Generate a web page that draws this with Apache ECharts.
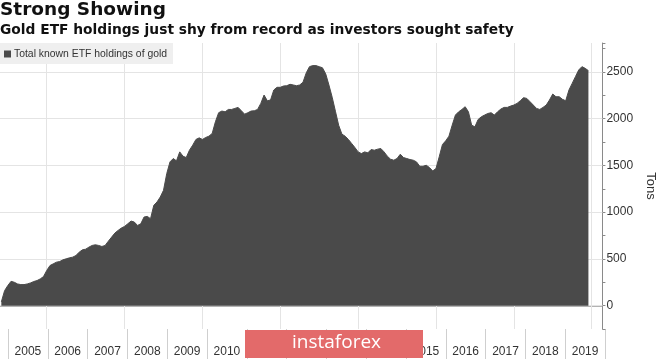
<!DOCTYPE html>
<html>
<head>
<meta charset="utf-8">
<script src="https://cdn.jsdelivr.net/npm/echarts@6/dist/echarts.min.js"></script>
<style>
html,body{margin:0;padding:0;background:#fff;}
#chart{width:665px;height:359px;}
</style>
</head>
<body>
<div id="chart"></div>
<script>
// Monthly total known ETF holdings of gold (tons), starting Nov 2004
var startYear = 2004;
var startMonth = 10; // 0-based month index: November
var holdings = [
  40, 160,
  215, 260, 250, 232, 225, 225, 232, 243, 258, 268, 286, 311,
  376, 429, 447, 465, 472, 490, 501, 511, 519, 536, 572, 597,
  604, 626, 644, 651, 644, 633, 644, 690, 733, 776, 805, 830,
  848, 876, 905, 894, 858, 876, 948, 955, 930, 1073, 1109, 1162,
  1234, 1413, 1538, 1574, 1549, 1645, 1599, 1584, 1663, 1717, 1778, 1795,
  1778, 1799, 1813, 1842, 1967, 2064, 2082, 2074, 2099, 2099, 2110, 2121,
  2085, 2049, 2064, 2082, 2085, 2099, 2164, 2253, 2192, 2200, 2307, 2336,
  2336, 2350, 2353, 2368, 2361, 2353, 2361, 2390, 2490, 2557, 2568, 2568,
  2557, 2545, 2480, 2360, 2230, 2080, 1930, 1835, 1813, 1778, 1735, 1692,
  1645, 1627, 1645, 1635, 1670, 1663, 1674, 1681, 1645, 1599, 1567, 1556,
  1574, 1620, 1584, 1574, 1563, 1556, 1538, 1491, 1491, 1502, 1477, 1441,
  1466, 1592, 1724, 1763, 1813, 1931, 2039, 2074, 2099, 2128, 2074, 1931,
  1913, 1992, 2021, 2039, 2056, 2064, 2039, 2074, 2103, 2121, 2121, 2135,
  2146, 2164, 2192, 2225, 2217, 2182, 2146, 2110, 2099, 2121, 2146, 2200,
  2264, 2235, 2235, 2207, 2192, 2307, 2378, 2450, 2521, 2557, 2539, 2514
];
var yearLabels = ['2005','2006','2007','2008','2009','2010','2011','2012','2013','2014','2015','2016','2017','2018','2019'];
var yGridValues = [0, 500, 1000, 1500, 2000, 2500];
var xGridYears = [2006, 2008, 2010, 2012, 2014, 2016, 2018, 2020];
var seriesName = 'Total known ETF holdings of gold';
var titleText = 'Strong Showing';
var subtitleText = 'Gold ETF holdings just shy from record as investors sought safety';

var seriesData = holdings.map(function (v, i) {
  return [startYear + (startMonth + i) / 12, v];
});

var FONT = "'Liberation Sans', Arial, sans-serif";
var TFONT = "'DejaVu Sans', sans-serif";
var chart = echarts.init(document.getElementById('chart'), null, {renderer: 'canvas'});
chart.setOption({
  animation: false,
  backgroundColor: '#ffffff',
  title: [
    {text: titleText, left: 0, top: 1, padding: 0,
     textStyle: {fontFamily: TFONT, fontSize: 18.5, fontWeight: 'bold', color: '#111'}},
    {text: subtitleText, left: 0, top: 23, padding: 0,
     textStyle: {fontFamily: TFONT, fontSize: 13.8, fontWeight: 'bold', color: '#111'}}
  ],
  legend: {
    data: [seriesName], left: 0, top: 43,
    backgroundColor: '#efefef', padding: [6, 6, 5, 4],
    icon: 'rect', itemWidth: 7, itemHeight: 7, itemGap: 4,
    textStyle: {fontFamily: FONT, fontSize: 10.4, color: '#333', padding: [0, 0, 0, -2]}
  },
  grid: [
    {left: 0, right: 49, top: 43, bottom: 30},
    {left: 8, right: 60, top: 329, bottom: 0}
  ],
  xAxis: [
    {type: 'value', gridIndex: 0, min: 2004.799, max: 2020.276,
     axisLine: {show: true, lineStyle: {color: '#9a9a9a', width: 1.5}},
     axisTick: {show: false}, axisLabel: {show: false}, splitLine: {show: false}},
    {type: 'category', gridIndex: 1, data: yearLabels, position: 'top', boundaryGap: true,
     axisLine: {show: false}, axisTick: {show: false},
     splitLine: {show: true, lineStyle: {color: '#cfcfcf', width: 1}},
     axisLabel: {inside: true, margin: 17, fontFamily: FONT, fontSize: 12, color: '#333', interval: 0}}
  ],
  yAxis: [
    {type: 'value', gridIndex: 0, position: 'right', min: -250, max: 2810, interval: 250,
     axisLine: {show: true, lineStyle: {color: '#8a8a8a', width: 1}},
     axisTick: {show: true, length: 3, lineStyle: {color: '#8a8a8a'}},
     splitLine: {show: false},
     axisLabel: {margin: 4, fontFamily: FONT, fontSize: 12, color: '#333',
       formatter: function (v) { return (v >= 0 && v % 500 === 0 && v <= 2500) ? String(v) : ''; }},
     name: 'Tons', nameLocation: 'middle', nameRotate: -90, nameGap: 41,
     nameTextStyle: {fontFamily: FONT, fontSize: 13, color: '#333'}},
    {type: 'value', gridIndex: 1, show: false}
  ],
  series: [
    {
      name: 'grid', type: 'line', xAxisIndex: 0, yAxisIndex: 0, z: 1,
      data: [[2010, 0]], symbol: 'none', lineStyle: {opacity: 0}, silent: true,
      markLine: {
        z: 1, silent: true, symbol: ['none', 'none'], label: {show: false},
        lineStyle: {color: '#e4e4e4', width: 1, type: 'solid'},
        emphasis: {disabled: true},
        data: yGridValues.map(function (v) { return {yAxis: v}; })
          .concat(xGridYears.map(function (y) { return {xAxis: y}; }))
      }
    },
    {
      name: seriesName, type: 'line', xAxisIndex: 0, yAxisIndex: 0, z: 3,
      data: seriesData, symbol: 'none', smooth: false,
      lineStyle: {color: '#4a4a4a', width: 1},
      itemStyle: {color: '#4a4a4a'},
      areaStyle: {color: '#4a4a4a', opacity: 1}
    }
  ],
  graphic: [
    {type: 'rect', left: 245, top: 330, z: 100,
     shape: {width: 178, height: 28},
     style: {fill: '#e36a6a'}},
    {type: 'text', left: 292, top: 333, z: 101,
     style: {text: 'instaforex', fill: '#ffffff', font: "19px 'Open Sans', sans-serif"}}
  ]
});
</script>
</body>
</html>
